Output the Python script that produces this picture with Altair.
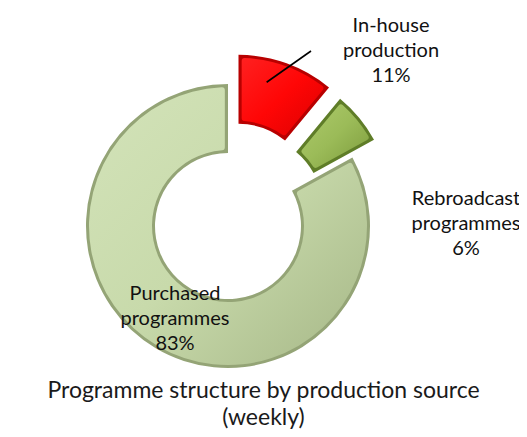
import altair as alt
import pandas as pd
import numpy as np

# ---- data ----
categories = ["In-house production", "Rebroadcast programmes", "Purchased programmes"]
label_lines = [["In-house", "production"], ["Rebroadcast", "programmes"], ["Purchased", "programmes"]]
shares = [11, 6, 83]
title_lines = ["Programme structure by production source", "(weekly)"]

# ---- style / layout ----
W, H = 511, 370
CX, CY = 220, 218
R_OUT, R_IN = 142, 73
explode = [31, 28, 0]
edges = ["#b80000", "#5f7d28", "#94a476"]
grad_light = ["#ff2020", "#aecb6c", "#d3e3b9"]
grad_mid = ["#ff0606", "#9bbb58", "#c8daab"]
grad_dark = ["#dc0000", "#7c9b3c", "#a6b787"]
label_anchor = [(383, 24), (458, 197), (167, 292)]
LINE_H = 25
leader_end = (303, 43)
FONT = "Lato"

# ---- derived table ----
cum = np.cumsum(shares)
start = cum - np.array(shares)
mid = (start + cum) / 2 / 100 * 2 * np.pi
cx = CX + np.array(explode) * np.sin(mid)
cy = CY - np.array(explode) * np.cos(mid)
df = pd.DataFrame({
    "category": categories,
    "share": shares,
    "start": start,
    "end": cum,
    "cx": cx,
    "cy": cy,
})

labels = pd.DataFrame({
    "category": categories,
    "text": [lines + [f"{s}%"] for lines, s in zip(label_lines, shares)],
    "lx": [p[0] for p in label_anchor],
    "ly": [p[1] for p in label_anchor],
})

# leader from inside the red slice to the label
a0 = mid[0] - np.deg2rad(6)
leader = pd.DataFrame({
    "x": [cx[0] + 118 * np.sin(a0)],
    "y": [cy[0] - 118 * np.cos(a0)],
    "x2": [leader_end[0]],
    "y2": [leader_end[1]],
})

xs = alt.Scale(domain=[0, W], range=[0, W])
ys = alt.Scale(domain=[0, H], range=[0, H])
ts = alt.Scale(domain=[0, 100], range=[0, 2 * np.pi])

enc = dict(
    x=alt.X("cx:Q", scale=xs, axis=None),
    y=alt.Y("cy:Q", scale=ys, axis=None),
    theta=alt.Theta("start:Q", scale=ts, stack=None),
    theta2="end:Q",
    tooltip=["category:N", "share:Q"],
)

layers = []
for i, cat in enumerate(categories):
    sub = alt.Chart(df).transform_filter(alt.datum.category == cat)
    layers.append(
        sub.mark_arc(radius=R_OUT, radius2=R_IN, fill=edges[i]).encode(**enc)
    )
    grad = alt.Gradient(
        gradient="linear",
        x1=0, y1=0, x2=1, y2=1,
        stops=[
            alt.GradientStop(offset=0, color=grad_light[i]),
            alt.GradientStop(offset=0.5, color=grad_mid[i]),
            alt.GradientStop(offset=1, color=grad_dark[i]),
        ],
    )
    layers.append(
        sub.mark_arc(
            radius=R_OUT - 3, radius2=R_IN + 3, padAngle=0.04, cornerRadius=3, fill=grad
        ).encode(**enc)
    )

rule = alt.Chart(leader).mark_rule(color="black", strokeWidth=1.6).encode(
    x=alt.X("x:Q", scale=xs, axis=None),
    y=alt.Y("y:Q", scale=ys, axis=None),
    x2="x2:Q",
    y2="y2:Q",
)

text = alt.Chart(labels).mark_text(
    font=FONT, fontSize=20, color="#111111", align="center", baseline="alphabetic", lineHeight=LINE_H
).encode(
    x=alt.X("lx:Q", scale=xs, axis=None),
    y=alt.Y("ly:Q", scale=ys, axis=None),
    text="text",
)

chart = alt.layer(*layers, rule, text).properties(
    width=W,
    height=H,
    autosize=alt.AutoSizeParams(type="none"),
    padding={"left": 0, "top": 0, "right": 0, "bottom": 51},
    title=alt.Title(
        title_lines,
        orient="bottom",
        anchor="middle",
        font=FONT,
        fontSize=23,
        fontWeight="normal",
        color="#1a1a1a",
        baseline="top",
        offset=2,
        lineHeight=27,
    ),
).configure_view(stroke=None)

chart.save("out.html", embed_options={"renderer": "svg", "actions": False})
